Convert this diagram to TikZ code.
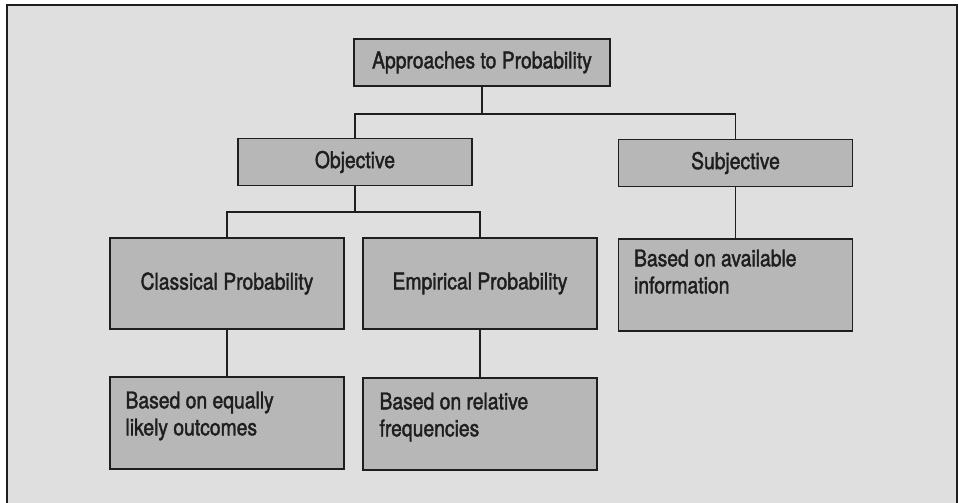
\documentclass[tikz,border=0pt]{standalone}
\usepackage{fontspec}
\setmainfont[FakeStretch=0.84,FakeBold=1.6]{TeX Gyre Heros}
\usepackage{tikz}
\usetikzlibrary{positioning}
\definecolor{pagegrey}{HTML}{DFDFDF}
\definecolor{boxgrey}{HTML}{B7B7B7}
\definecolor{inkgrey}{HTML}{1E1E1E}

\begin{document}
\begin{tikzpicture}[x=1pt,y=-1pt,
	box/.style={draw=inkgrey,line width=1.3pt,fill=boxgrey,text=inkgrey,inner sep=0pt,
		minimum width=234pt,font=\fontsize{23}{27}\selectfont},
	words/.style={align=left,inner sep=0pt,text=inkgrey,font=\fontsize{23}{27}\selectfont},
	link/.style={draw=inkgrey,line width=1.2pt}]
	\useasboundingbox (0,0) rectangle (959,503);
	\clip (0,0) rectangle (959,503);
	\fill[white] (0,0) rectangle (959,503);
	\filldraw[fill=pagegrey,draw=inkgrey,line width=1.6pt] (7,5) rectangle (957,515);

	\node[box,minimum width=256pt,minimum height=47pt] (approaches) at (482,62.5) {Approaches to Probability};
	\node[box,minimum height=47pt] (objective) at (355,162) {Objective};
	\node[box,minimum height=47pt] (subjective) at (735.5,163) {Subjective};
	\node[box,minimum height=91pt] (classical) at (227,283.5) {Classical Probability};
	\node[box,minimum height=91pt] (empirical) at (480,283.5) {Empirical Probability};
	\node[box,minimum height=92pt] (available) at (735.5,285) {};
	\node[box,minimum height=92pt] (equally) at (227,423) {};
	\node[box,minimum height=92pt] (relative) at (480,424) {};

	% text of the lower boxes
	\node[words,below right=11pt and 16pt of available.north west] (availabletext) {Based on available\\information};
	\node[words,below right=15pt and 16pt of equally.north west] (equallytext) {Based on equally\\likely outcomes};
	\node[words,below right=15pt and 17pt of relative.north west] (relativetext) {Based on relative\\frequencies};

	% draw the connections
	\coordinate (topsplit) at (482,114);
	\coordinate (objsplit) at (355,212);
	\draw[link] (approaches) -- (topsplit);
	\draw[link] (objective.north) |- (topsplit) -| (subjective.north);
	\draw[link] (objective) -- (objsplit);
	\draw[link] (classical.north) |- (objsplit) -| (empirical.north);
	\draw[link] (subjective) -- (available);
	\draw[link] (classical) -- (equally);
	\draw[link] (empirical) -- (relative);
\end{tikzpicture}
\end{document}
